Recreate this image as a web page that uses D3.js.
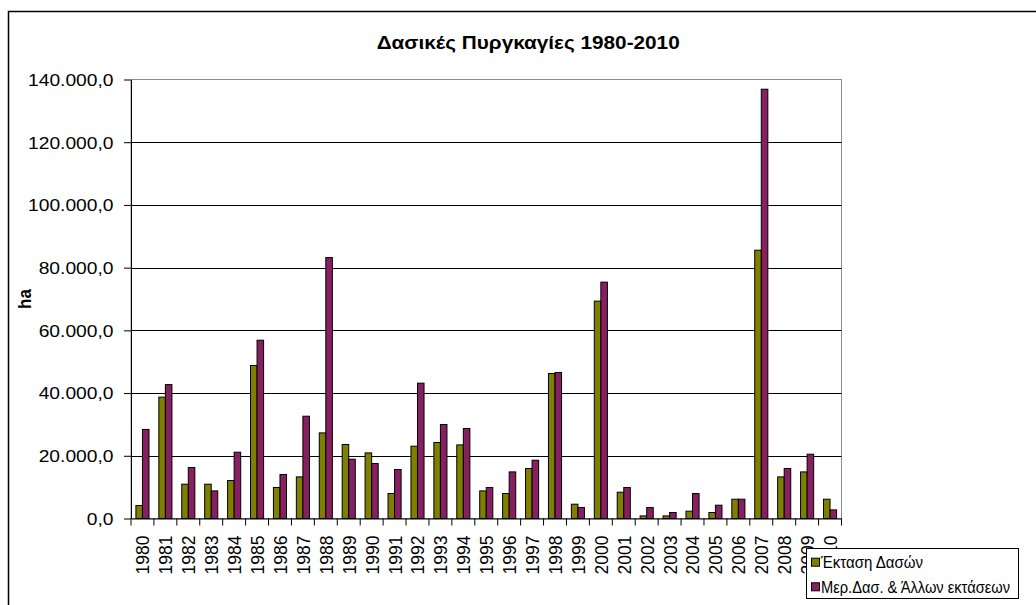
<!DOCTYPE html>
<html>
<head>
<meta charset="utf-8">
<script src="https://cdn.jsdelivr.net/npm/d3@7/dist/d3.min.js"></script>
<style>
  html, body { margin: 0; padding: 0; background: #fff; }
  svg text { font-family: "Liberation Sans", Arial, sans-serif; fill: #000; }
</style>
</head>
<body>
<svg id="chart" width="1036" height="605"></svg>
<script>
const years = ["1980","1981","1982","1983","1984","1985","1986","1987","1988","1989",
  "1990","1991","1992","1993","1994","1995","1996","1997","1998","1999",
  "2000","2001","2002","2003","2004","2005","2006","2007","2008","2009","2010"];
const forestArea = [4150, 38700, 10940, 10940, 12120, 48800, 9890, 13270, 27300, 23600,
  20920, 7970, 23060, 24240, 23470, 8800, 7970, 15950, 46250, 4560,
  69320, 8390, 830, 830, 2330, 1910, 6150, 85560, 13270, 14860, 6150];
const otherArea = [28400, 42700, 16260, 8800, 21140, 56860, 14030, 32620, 83230, 18910,
  17540, 15630, 43160, 29980, 28700, 9890, 14860, 18590, 46570, 3510,
  75380, 9890, 3510, 1910, 7970, 4240, 6150, 136900, 15950, 20500, 2740];
const seriesNames = ["Έκταση Δασών", "Μερ.Δασ. & Άλλων εκτάσεων"];
const yTicks = [0, 20000, 40000, 60000, 80000, 100000, 120000, 140000];
const titleText = "Δασικές Πυργκαγίες 1980-2010";
const yAxisTitle = "ha";

const colors = ["#808000", "#862061"];
const series = [forestArea, otherArea];

const svg = d3.select("#chart");
const pLeft = 131, pRight = 841.5, pTop = 79.5, pBottom = 518.5;
const sxY = 1.18, sxX = 1.1;

const loc = d3.formatLocale({decimal: ",", thousands: ".", grouping: [3], currency: ["", "€"]});
const fmt = loc.format(",.1f");

// outer chart border
svg.append("rect").attr("x", 8.5).attr("y", 11.5).attr("width", 1200).attr("height", 800)
  .attr("fill", "#fff").attr("stroke", "#000").attr("stroke-width", 1.5);

const x = d3.scaleBand().domain(years).range([pLeft, pRight]).padding(0);
const y = d3.scaleLinear().domain([0, 140000]).range([pBottom, pTop]);

const bw = x.bandwidth();
const barW = bw / 3.5;
const x1 = d3.scaleBand().domain([0, 1])
  .range([(bw - 2 * barW) / 2, (bw + 2 * barW) / 2]).padding(0);

// plot area border (grey)
svg.append("rect").attr("x", pLeft).attr("y", pTop).attr("width", pRight - pLeft).attr("height", pBottom - pTop)
  .attr("fill", "#fff").attr("stroke", "#8c8c8c").attr("stroke-width", 1);

// gridlines
svg.append("g").selectAll("line").data(yTicks.filter(d => d > 0 && d < 140000)).join("line")
  .attr("x1", pLeft).attr("x2", pRight)
  .attr("y1", d => Math.round(y(d)) + 0.5).attr("y2", d => Math.round(y(d)) + 0.5)
  .attr("stroke", "#000").attr("stroke-width", 1);

// bars
const groups = svg.append("g").selectAll("g").data(years).join("g")
  .attr("transform", d => `translate(${x(d)},0)`);
groups.selectAll("rect").data((d, i) => series.map((s, k) => ({k, v: s[i]}))).join("rect")
  .attr("x", d => x1(d.k))
  .attr("width", x1.bandwidth())
  .attr("y", d => y(d.v))
  .attr("height", d => pBottom - y(d.v))
  .attr("fill", d => colors[d.k])
  .attr("stroke", "#000").attr("stroke-width", 1);

// y axis
const yAxis = svg.append("g").attr("transform", `translate(${pLeft},0)`)
  .call(d3.axisLeft(y).tickValues(yTicks).tickFormat(fmt).tickSize(7).tickSizeOuter(0));
yAxis.select(".domain").attr("stroke", "#000");
yAxis.selectAll(".tick line").attr("stroke", "#000");
yAxis.selectAll(".tick text")
  .attr("font-size", 16.3)
  .attr("x", -17.5 / sxY)
  .attr("dy", "0.36em")
  .attr("transform", `scale(${sxY},1)`)
  .style("font-family", '"Liberation Sans", Arial, sans-serif');

// x axis
const xAxis = svg.append("g").attr("transform", `translate(0,${pBottom})`)
  .call(d3.axisBottom(x).tickSize(0).tickSizeOuter(0));
xAxis.select(".domain").attr("stroke", "#000");
xAxis.selectAll(".tick line").remove();
xAxis.selectAll(".tick text")
  .attr("font-size", 17.5)
  .attr("text-anchor", "end")
  .attr("x", -17)
  .attr("y", 0)
  .attr("dy", "0.36em")
  .attr("transform", `scale(${sxX},1) rotate(-90)`)
  .style("font-family", '"Liberation Sans", Arial, sans-serif');
// category boundary tick marks
svg.append("g").selectAll("line").data(years.concat(["end"])).join("line")
  .attr("x1", (d, i) => i < years.length ? x(d) : pRight)
  .attr("x2", (d, i) => i < years.length ? x(d) : pRight)
  .attr("y1", pBottom).attr("y2", pBottom + 7)
  .attr("stroke", "#000").attr("stroke-width", 1);

// y axis title
svg.append("text")
  .attr("transform", `translate(31,299) scale(${sxX},1) rotate(-90)`)
  .attr("text-anchor", "middle")
  .attr("font-size", 17).attr("font-weight", "bold")
  .text(yAxisTitle);

// title
svg.append("text")
  .attr("x", 376.7).attr("y", 49.3)
  .attr("font-size", 17.5).attr("font-weight", "bold")
  .attr("textLength", 303).attr("lengthAdjust", "spacingAndGlyphs")
  .text(titleText);

// legend
const lg = svg.append("g");
lg.append("rect").attr("x", 806.5).attr("y", 548.5).attr("width", 212).attr("height", 50)
  .attr("fill", "#fff").attr("stroke", "#000").attr("stroke-width", 1);
const legendLens = [102, 189];
const legendY = [562.7, 587.3];
seriesNames.forEach((name, k) => {
  lg.append("rect").attr("x", 811.5).attr("y", legendY[k] - 4.5).attr("width", 8).attr("height", 8)
    .attr("fill", colors[k]).attr("stroke", "#000").attr("stroke-width", 1);
  lg.append("text").attr("x", 821).attr("y", legendY[k]).attr("dy", "0.36em")
    .attr("font-size", 16)
    .attr("textLength", legendLens[k]).attr("lengthAdjust", "spacingAndGlyphs")
    .text(name);
});
</script>
</body>
</html>
